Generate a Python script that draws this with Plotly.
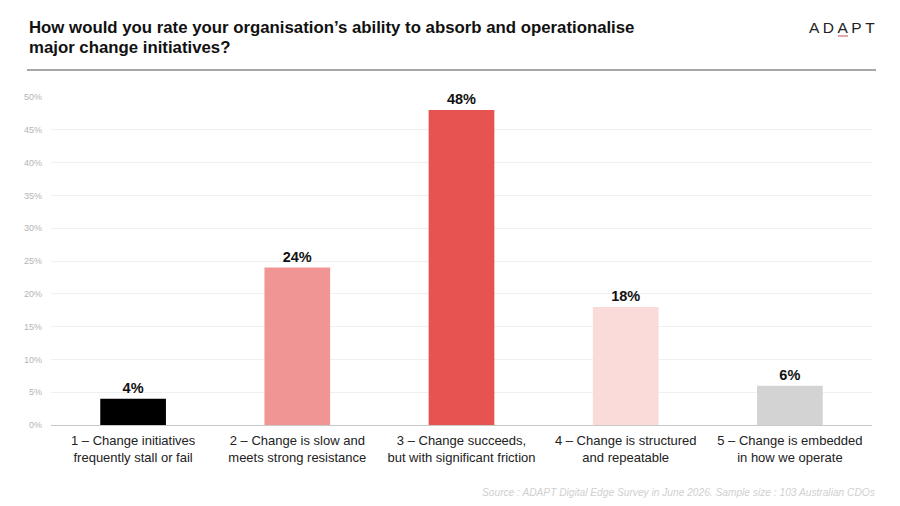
import plotly.graph_objects as go

categories = [
    "1 – Change initiatives<br>frequently stall or fail",
    "2 – Change is slow and<br>meets strong resistance",
    "3 – Change succeeds,<br>but with significant friction",
    "4 – Change is structured<br>and repeatable",
    "5 – Change is embedded<br>in how we operate",
]
values = [4, 24, 48, 18, 6]
bar_colors = ["#000000", "#F09594", "#E65350", "#FBDADA", "#D3D3D3"]
y_ticks = [0, 5, 10, 15, 20, 25, 30, 35, 40, 45, 50]

title_lines = [
    "How would you rate your organisation’s ability to absorb and operationalise",
    "major change initiatives?",
]
source_text = "Source : ADAPT Digital Edge Survey in June 2026. Sample size : 103 Australian CDOs"

# page has an 8px body margin, so the figure is drawn 8px smaller
W, H = 892, 498
L, R, T, B = 43, 28, 89, 81
PW, PH = W - L - R, H - T - B


def px(x):
    # screen x -> paper x
    return (x - 8 - L) / PW


def py(y):
    # screen y -> paper y
    return 1 - (y - 8 - T) / PH


fig = go.Figure()
fig.add_trace(go.Bar(
    x=categories,
    y=values,
    marker=dict(color=bar_colors, line=dict(width=0)),
    width=0.4,
    text=[f"{v}%" for v in values],
    textposition="outside",
    textfont=dict(family="Liberation Sans, Arial", size=14.5, color="#111111"),
    texttemplate="<b>%{text}</b>",
    cliponaxis=False,
    hoverinfo="skip",
))

fig.update_layout(
    width=W,
    height=H,
    margin=dict(l=L, r=R, t=T, b=B),
    paper_bgcolor="white",
    plot_bgcolor="white",
    showlegend=False,
    font=dict(family="Liberation Sans, Arial", color="#222222"),
)

fig.update_xaxes(
    tickfont=dict(size=13, color="#222222"),
    showgrid=False,
    showline=False,
    ticks="",
    ticklabelstandoff=6,
)
fig.update_yaxes(
    range=[0, 50],
    tickvals=y_ticks,
    ticktext=[f"{t}%" for t in y_ticks],
    tickfont=dict(size=9, color="#b4b4b4"),
    showgrid=True,
    gridcolor="#f0f0f0",
    gridwidth=1,
    zeroline=True,
    zerolinecolor="#c8c8c8",
    zerolinewidth=1,
    ticklabelstandoff=8,
)

# title, one annotation per line to keep the tight line spacing
for line, yc in zip(title_lines, [28, 47]):
    fig.add_annotation(
        text=f"<b>{line}</b>",
        xref="paper", yref="paper",
        x=px(27), y=py(yc),
        xanchor="left", yanchor="middle", align="left",
        showarrow=False,
        font=dict(family="Liberation Sans, Arial", size=16.8, color="#111111"),
    )

# rule under title
fig.add_shape(
    type="line", xref="paper", yref="paper",
    x0=px(27), x1=px(876),
    y0=py(70), y1=py(70),
    line=dict(color="#8a8a8a", width=1.5),
)

# logo
fig.add_annotation(
    text="A D A P T",
    xref="paper", yref="paper",
    x=px(877), y=py(28),
    xanchor="right", yanchor="middle",
    showarrow=False,
    font=dict(family="Liberation Sans, Arial", size=15.5, color="#222222"),
)
fig.add_shape(
    type="line", xref="paper", yref="paper",
    x0=px(838), x1=px(848),
    y0=py(36), y1=py(36),
    line=dict(color="#c0504d", width=1),
)

# source
fig.add_annotation(
    text=f"<i>{source_text}</i>",
    xref="paper", yref="paper",
    x=px(877), y=py(492),
    xanchor="right", yanchor="middle",
    showarrow=False,
    font=dict(family="Liberation Sans, Arial", size=10.2, color="#d0d0d0"),
)

fig.write_html("out.html")
